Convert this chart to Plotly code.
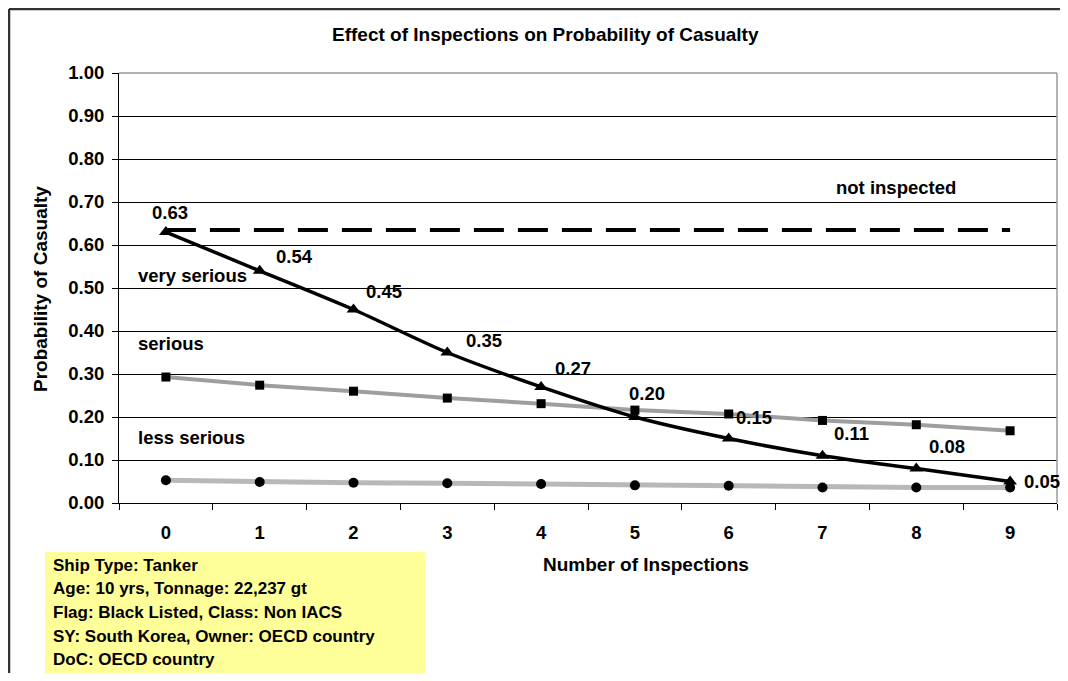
import plotly.graph_objects as go

inspections = ["0", "1", "2", "3", "4", "5", "6", "7", "8", "9"]
very_serious = [0.63, 0.54, 0.45, 0.35, 0.27, 0.20, 0.15, 0.11, 0.08, 0.05]
serious = [0.293, 0.274, 0.260, 0.244, 0.231, 0.216, 0.207, 0.192, 0.182, 0.168]
less_serious = [0.053, 0.049, 0.047, 0.046, 0.044, 0.041, 0.040, 0.036, 0.036, 0.036]
not_inspected = [0.635] * 10
y_ticks = [0.0, 0.1, 0.2, 0.3, 0.4, 0.5, 0.6, 0.7, 0.8, 0.9, 1.0]
info_lines = [
    "Ship Type: Tanker",
    "Age: 10 yrs, Tonnage: 22,237 gt",
    "Flag: Black Listed, Class: Non IACS",
    "SY: South Korea, Owner: OECD country",
    "DoC: OECD country",
]

# label pixel offsets (style only)
label_dx = [4, 35, 30, 37, 32, 12, 25, 29, 31, 32]
label_dy = [20, 14, 18, 12, 18, 24, 21, 22, 22, 0]

FONT = "Liberation Sans, Arial, sans-serif"
FS = 18.5
OFF = 8  # page body margin
W, H = 1052, 665
L, T = 111, 65
PW, PH = 938, 430
R = W - L - PW
B = H - T - PH


def px(x):
    return (x - OFF - L) / PW


def py(y):
    return (T + PH - (y - OFF)) / PH


fig = go.Figure()
fig.add_trace(go.Scatter(x=inspections, y=less_serious, mode="lines+markers",
                         line=dict(color="#b8b8b8", width=5),
                         marker=dict(symbol="circle", size=10, color="black"),
                         name="less serious"))
fig.add_trace(go.Scatter(x=inspections, y=serious, mode="lines+markers",
                         line=dict(color="#9e9e9e", width=4),
                         marker=dict(symbol="square", size=9, color="black"),
                         name="serious"))
fig.add_trace(go.Scatter(x=inspections, y=not_inspected, mode="lines",
                         line=dict(color="black", width=4, dash="30px,14px"),
                         name="not inspected"))
fig.add_trace(go.Scatter(x=inspections, y=very_serious, mode="lines+markers",
                         line=dict(color="black", width=3.5, shape="spline", smoothing=0.8),
                         marker=dict(symbol="triangle-up", size=12, color="black"),
                         name="very serious"))

annotations = []
for i, v in enumerate(very_serious):
    annotations.append(dict(x=i, y=v, xref="x", yref="y", text=f"<b>{v:.2f}</b>",
                            showarrow=False, xshift=label_dx[i], yshift=label_dy[i],
                            font=dict(family=FONT, size=FS, color="black")))

for txt, x, y, anchor in [("not inspected", 896, 187, "center"),
                          ("very serious", 136, 275, "left"),
                          ("serious", 136, 343, "left"),
                          ("less serious", 136, 437, "left")]:
    annotations.append(dict(x=px(x), y=py(y), xref="paper", yref="paper", text=f"<b>{txt}</b>",
                            showarrow=False, xanchor=anchor, yanchor="middle",
                            font=dict(family=FONT, size=FS, color="black")))

# title and axis titles
annotations.append(dict(x=px(545), y=py(35), xref="paper", yref="paper",
                        text="<b>Effect of Inspections on Probability of Casualty</b>",
                        showarrow=False, xanchor="center", yanchor="middle",
                        font=dict(family=FONT, size=19, color="black")))
annotations.append(dict(x=px(646), y=py(564), xref="paper", yref="paper",
                        text="<b>Number of Inspections</b>",
                        showarrow=False, xanchor="center", yanchor="middle",
                        font=dict(family=FONT, size=19, color="black")))
annotations.append(dict(x=px(40), y=py(289), xref="paper", yref="paper",
                        text="<b>Probability of Casualty</b>", textangle=-90,
                        showarrow=False, xanchor="center", yanchor="middle",
                        font=dict(family=FONT, size=19, color="black")))

# info box lines
for k, line in enumerate(info_lines):
    annotations.append(dict(x=px(51), y=py(565 + k * 23.7), xref="paper", yref="paper",
                            text=f"<b>{line}</b>", showarrow=False,
                            xanchor="left", yanchor="middle",
                            font=dict(family=FONT, size=17, color="black")))

shapes = [
    dict(type="rect", xref="paper", yref="paper", x0=px(45), x1=px(425), y0=py(676), y1=py(552),
         fillcolor="#ffff99", line=dict(width=0), layer="below"),
    dict(type="line", xref="paper", yref="paper", x0=1, x1=1, y0=0, y1=1,
         line=dict(color="#9a9a9a", width=1.5), layer="above"),
    dict(type="line", xref="paper", yref="paper", x0=0, x1=1, y0=1, y1=1,
         line=dict(color="#9a9a9a", width=1.5), layer="above"),
    dict(type="line", xref="paper", yref="paper", x0=-L / PW + 1 / PW, x1=(W - L) / PW,
         y0=(T + PH - 1) / PH, y1=(T + PH - 1) / PH,
         line=dict(color="#333333", width=2.5)),
    dict(type="line", xref="paper", yref="paper", x0=-L / PW + 1 / PW, x1=-L / PW + 1 / PW,
         y0=(T + PH - 1) / PH, y1=-B / PH,
         line=dict(color="#333333", width=2.5)),
]

fig.update_layout(
    width=W, height=H,
    margin=dict(l=L, r=R, t=T, b=B, pad=0),
    paper_bgcolor="white", plot_bgcolor="white",
    showlegend=False,
    annotations=annotations,
    shapes=shapes,
    font=dict(family=FONT, color="black"),
)
fig.update_xaxes(type="category", categoryorder="array", categoryarray=inspections,
                 range=[-0.5, 9.5], tickson="boundaries", ticks="outside", ticklen=6,
                 tickcolor="black", showline=True, linecolor="black", linewidth=1,
                 showgrid=False, zeroline=False,
                 tickfont=dict(family=FONT, size=FS, color="black"),
                 tickprefix="<b>", ticksuffix="</b>", ticklabelstandoff=13)
fig.update_yaxes(range=[0, 1], tickvals=y_ticks, ticktext=[f"<b>{v:.2f}</b>" for v in y_ticks],
                 ticks="outside", ticklen=6, tickcolor="black",
                 showline=True, linecolor="black", linewidth=1,
                 showgrid=True, gridcolor="black", gridwidth=1, zeroline=False,
                 tickfont=dict(family=FONT, size=FS, color="black"), ticklabelstandoff=4)

fig.write_html("out.html")
